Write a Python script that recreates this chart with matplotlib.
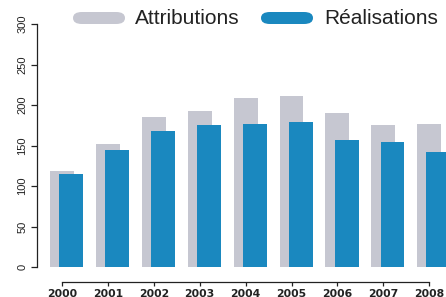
import matplotlib.pyplot as plt
from matplotlib.patches import FancyBboxPatch
import numpy as np

years = [2000, 2001, 2002, 2003, 2004, 2005, 2006, 2007, 2008]
attributions = [119, 152, 185, 193, 209, 211, 190, 175, 176]
realisations = [115, 145, 168, 175, 177, 179, 157, 154, 142]

gray = "#c6c7d1"
blue = "#1a88bf"
W, H = 446, 297

plt.rcParams['font.family'] = ['Liberation Sans', 'DejaVu Sans']

fig = plt.figure(figsize=(W / 100, H / 100), dpi=100)
ax = fig.add_axes([37 / W, 30 / H, (446 - 37) / W, (267 - 24) / H])

x = np.array(years)
ax.bar(x, attributions, width=0.52, color=gray, zorder=1)
ax.bar(x + 0.2, realisations, width=0.52, color=blue, zorder=2)

ax.set_xlim(2000 - 25 / 45.9, 2000 + (446 - 62) / 45.9)
ax.set_ylim(0, 300)

for s in ['top', 'right']:
    ax.spines[s].set_visible(False)
ax.spines['left'].set_bounds(0, 300)
ax.spines['bottom'].set_position(('outward', 11))
ax.spines['bottom'].set_bounds(2000, 2008)
for s in ['left', 'bottom']:
    ax.spines[s].set_color('#222222')
    ax.spines[s].set_linewidth(0.9)

ax.set_yticks([0, 50, 100, 150, 200, 250, 300])
ax.set_yticklabels(['0', '50', '100', '150', '200', '250', '300'],
                   rotation=90, va='center', fontsize=8, color='#222222')
ax.set_xticks(years)
ax.set_xticklabels([str(y) for y in years], fontsize=7.8, fontweight='bold',
                   color='#222222', family='DejaVu Sans')
ax.tick_params(axis='both', length=4, width=0.9, color='#222222', pad=3)
ax.tick_params(axis='x', length=3, pad=1.5)

# legend
def legend_item(x0, color, label, tx):
    p = FancyBboxPatch((x0 / W, 1 - 24 / H), 52 / W, 12 / H,
                       boxstyle="round,pad=0,rounding_size=0.02",
                       transform=fig.transFigure, facecolor=color,
                       edgecolor='none', mutation_aspect=H / W * 1.5)
    fig.patches.append(p)
    fig.text(tx / W, 1 - 18 / H, label, fontsize=15, color='#222222',
             va='center', ha='left')

legend_item(73, gray, "Attributions", 135)
legend_item(261, blue, "Réalisations", 324)

fig.savefig("out.png", dpi=100)
